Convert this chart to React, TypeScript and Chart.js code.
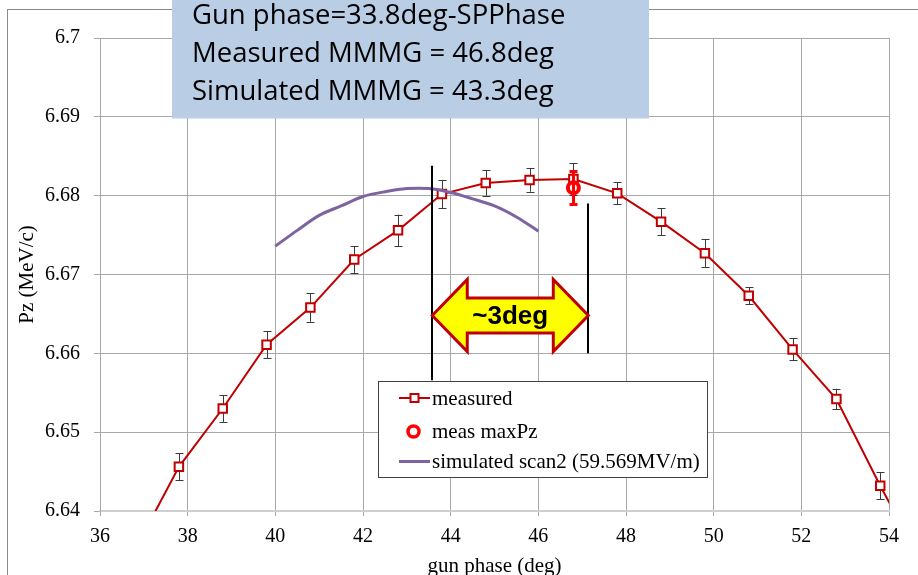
import { useEffect, useRef } from 'react';
import { Chart, registerables } from 'chart.js';

Chart.register(...registerables);

// Gun phase scan: measured Pz with error bars, peak marker, simulated scan
const phaseMeasured = [36.8, 37.8, 38.8, 39.8, 40.8, 41.8, 42.8, 43.8, 44.8, 45.8, 46.8, 47.8, 48.8, 49.8, 50.8, 51.8, 52.8, 53.8, 54.8];
const pzMeasured = [6.6351, 6.6456, 6.653, 6.6611, 6.6658, 6.6719, 6.6756, 6.6802, 6.6816, 6.682, 6.6821, 6.6803, 6.6767, 6.6727, 6.6673, 6.6605, 6.6542, 6.6432, 6.6328];
const pzMeasuredErr = [0.0017, 0.0017, 0.0017, 0.0017, 0.0018, 0.0017, 0.002, 0.0018, 0.0016, 0.0015, 0.002, 0.0014, 0.0017, 0.0018, 0.0011, 0.0014, 0.0013, 0.0017, 0.0017];

const phaseMaxPz = [46.8];
const pzMaxPz = [6.681];
const pzMaxPzErr = [0.0021];

const phaseSimulated = [40.0, 40.5, 41.0, 41.5, 42.0, 42.5, 43.0, 43.5, 44.0, 44.5, 45.0, 45.5, 46.0];
const pzSimulated = [6.6736, 6.6756, 6.6775, 6.6787, 6.6799, 6.6805, 6.6809, 6.6809, 6.6804, 6.6796, 6.6787, 6.6773, 6.6755];

const xTickValues = [36, 38, 40, 42, 44, 46, 48, 50, 52, 54];
const yTickValues = [6.64, 6.65, 6.66, 6.67, 6.68, 6.69, 6.7];

const seriesLabels = ['measured', 'meas maxPz', 'simulated scan2 (59.569MV/m)'];
const infoLines = ['Gun phase=33.8deg-SPPhase', 'Measured MMMG = 46.8deg', 'Simulated MMMG = 43.3deg'];
const spanLabel = '~3deg';

// phase window shown by the double arrow (deg) and marker line extents (MeV/c)
const spanLeft = { x: 43.58, yTop: 6.6838, yBottom: 6.6566 };
const spanRight = { x: 47.14, yTop: 6.679, yBottom: 6.66 };
const spanArrowY = 6.6648;

const RED = '#C00000';
const BRIGHT_RED = '#FF0000';
const PURPLE = '#7F63A1';
const SERIF = '"Liberation Serif", "Times New Roman", serif';

const toPoints = (xs: number[], ys: number[]) => xs.map((x, i) => ({ x, y: ys[i] }));

const errorsByDataset: Record<number, { err: number[]; color: string; width: number; cap: number }> = {
  0: { err: pzMeasuredErr, color: '#3A3A3A', width: 1, cap: 4 },
  1: { err: pzMaxPzErr, color: BRIGHT_RED, width: 3, cap: 4 },
};

const overlayPlugin = {
  id: 'phaseScanOverlay',
  beforeDraw(chart: any) {
    const { ctx } = chart;
    ctx.save();
    ctx.fillStyle = '#ffffff';
    ctx.fillRect(0, 0, chart.width, chart.height);
    ctx.strokeStyle = '#8A8A8A';
    ctx.lineWidth = 1;
    ctx.strokeRect(7.5, 9.5, chart.width + 20, chart.height + 20);
    ctx.restore();
  },
  beforeDatasetDraw(chart: any, args: any) {
    const spec = errorsByDataset[args.index];
    if (!spec) return;
    const { ctx, chartArea } = chart;
    const xs = chart.scales.x;
    const ys = chart.scales.y;
    const data = chart.data.datasets[args.index].data as { x: number; y: number }[];
    ctx.save();
    ctx.beginPath();
    ctx.rect(chartArea.left, chartArea.top, chartArea.right - chartArea.left, chartArea.bottom - chartArea.top);
    ctx.clip();
    ctx.strokeStyle = spec.color;
    ctx.lineWidth = spec.width;
    data.forEach((p, i) => {
      const px = Math.round(xs.getPixelForValue(p.x)) + (spec.width % 2 ? 0.5 : 0);
      const top = ys.getPixelForValue(p.y + spec.err[i]);
      const bot = ys.getPixelForValue(p.y - spec.err[i]);
      ctx.beginPath();
      ctx.moveTo(px, top);
      ctx.lineTo(px, bot);
      ctx.moveTo(px - spec.cap, Math.round(top) + 0.5);
      ctx.lineTo(px + spec.cap, Math.round(top) + 0.5);
      ctx.moveTo(px - spec.cap, Math.round(bot) + 0.5);
      ctx.lineTo(px + spec.cap, Math.round(bot) + 0.5);
      ctx.stroke();
    });
    ctx.restore();
  },
  afterDraw(chart: any) {
    const { ctx } = chart;
    const xs = chart.scales.x;
    const ys = chart.scales.y;
    ctx.save();

    // marker lines bounding the phase window
    ctx.strokeStyle = '#000000';
    ctx.lineWidth = 2;
    [spanLeft, spanRight].forEach((m) => {
      const px = Math.round(xs.getPixelForValue(m.x));
      ctx.beginPath();
      ctx.moveTo(px, ys.getPixelForValue(m.yTop));
      ctx.lineTo(px, ys.getPixelForValue(m.yBottom));
      ctx.stroke();
    });

    // double-headed arrow
    const xl = xs.getPixelForValue(spanLeft.x);
    const xr = xs.getPixelForValue(spanRight.x);
    const cy = ys.getPixelForValue(spanArrowY);
    const head = 35;
    const headHalf = 36;
    const shaftHalf = 17.5;
    ctx.beginPath();
    ctx.moveTo(xl, cy);
    ctx.lineTo(xl + head, cy - headHalf);
    ctx.lineTo(xl + head, cy - shaftHalf);
    ctx.lineTo(xr - head, cy - shaftHalf);
    ctx.lineTo(xr - head, cy - headHalf);
    ctx.lineTo(xr, cy);
    ctx.lineTo(xr - head, cy + headHalf);
    ctx.lineTo(xr - head, cy + shaftHalf);
    ctx.lineTo(xl + head, cy + shaftHalf);
    ctx.lineTo(xl + head, cy + headHalf);
    ctx.closePath();
    ctx.fillStyle = '#FFFF00';
    ctx.fill();
    ctx.strokeStyle = RED;
    ctx.lineWidth = 3;
    ctx.lineJoin = 'miter';
    ctx.stroke();
    ctx.fillStyle = '#000000';
    ctx.font = 'bold 26px "Liberation Sans", Arial, sans-serif';
    ctx.textAlign = 'center';
    ctx.textBaseline = 'middle';
    ctx.fillText(spanLabel, (xl + xr) / 2, cy + 1);

    // legend box
    const lx = 378.5;
    const ly = 381.5;
    const lw = 329;
    const lh = 96;
    ctx.fillStyle = '#ffffff';
    ctx.fillRect(lx, ly, lw, lh);
    ctx.strokeStyle = '#404040';
    ctx.lineWidth = 1;
    ctx.strokeRect(lx, ly, lw, lh);
    const rowY = [398, 431.5, 461.5];
    const symL = 399;
    const symR = 430;
    const symC = (symL + symR) / 2;
    ctx.font = `21px ${SERIF}`;
    ctx.textAlign = 'left';
    ctx.textBaseline = 'middle';
    // measured
    ctx.strokeStyle = RED;
    ctx.lineWidth = 2;
    ctx.beginPath();
    ctx.moveTo(symL, rowY[0]);
    ctx.lineTo(symR, rowY[0]);
    ctx.stroke();
    ctx.fillStyle = '#ffffff';
    ctx.fillRect(symC - 4, rowY[0] - 4, 8, 8);
    ctx.strokeRect(symC - 4, rowY[0] - 4, 8, 8);
    // meas maxPz
    ctx.strokeStyle = BRIGHT_RED;
    ctx.lineWidth = 3.5;
    ctx.beginPath();
    ctx.arc(symC - 1, rowY[1], 5.5, 0, Math.PI * 2);
    ctx.stroke();
    // simulated
    ctx.strokeStyle = PURPLE;
    ctx.lineWidth = 3;
    ctx.beginPath();
    ctx.moveTo(symL, rowY[2]);
    ctx.lineTo(symR, rowY[2]);
    ctx.stroke();
    ctx.fillStyle = '#000000';
    seriesLabels.forEach((t, i) => ctx.fillText(t, 432, rowY[i] + 1));

    // info text box
    ctx.fillStyle = '#B9CDE5';
    ctx.fillRect(172, 0, 477, 118.5);
    ctx.fillStyle = '#000000';
    ctx.font = '27.5px "Open Sans", Lato, sans-serif';
    ctx.textAlign = 'left';
    ctx.textBaseline = 'alphabetic';
    infoLines.forEach((t, i) => ctx.fillText(t, 192, 24 + i * 38));

    ctx.restore();
  },
};

export default function App() {
  const canvasRef = useRef<HTMLCanvasElement | null>(null);

  useEffect(() => {
    const canvas = canvasRef.current;
    if (!canvas) return;
    const chart = new Chart(canvas, {
      type: 'scatter',
      data: {
        datasets: [
          {
            label: seriesLabels[0],
            data: toPoints(phaseMeasured, pzMeasured),
            showLine: true,
            borderColor: RED,
            borderWidth: 2,
            pointStyle: 'rect',
            pointRadius: 6,
            pointBorderWidth: 2,
            pointBackgroundColor: '#ffffff',
            pointBorderColor: RED,
            clip: 0,
            order: 2,
          },
          {
            label: seriesLabels[1],
            data: toPoints(phaseMaxPz, pzMaxPz),
            showLine: false,
            pointStyle: 'circle',
            pointRadius: 5.5,
            pointBorderWidth: 4,
            pointBackgroundColor: 'rgba(255,255,255,0)',
            pointBorderColor: BRIGHT_RED,
            order: 0,
          },
          {
            label: seriesLabels[2],
            data: toPoints(phaseSimulated, pzSimulated),
            showLine: true,
            borderColor: PURPLE,
            borderWidth: 3,
            tension: 0.3,
            pointRadius: 0,
            order: 1,
          },
        ],
      },
      options: {
        responsive: false,
        animation: false,
        devicePixelRatio: 1,
        layout: { padding: { left: 0, top: 38, right: 29, bottom: 0 } },
        plugins: {
          legend: { display: false },
          tooltip: { enabled: false },
        },
        scales: {
          x: {
            type: 'linear',
            min: 36,
            max: 54,
            afterBuildTicks: (axis: any) => {
              axis.ticks = xTickValues.map((v) => ({ value: v }));
            },
            afterFit: (scale: any) => {
              scale.height = 64;
            },
            ticks: {
              color: '#000000',
              font: { family: SERIF, size: 20 },
              padding: 9,
              maxRotation: 0,
              callback: (v: any) => String(v),
            },
            grid: { color: '#A8A8A8', lineWidth: 1, tickLength: 5, drawTicks: true },
            border: { color: '#CFCFCF', width: 2 },
            title: {
              display: true,
              text: 'gun phase (deg)',
              color: '#000000',
              font: { family: SERIF, size: 21, lineHeight: 0.8 },
              padding: { top: 0, bottom: 0 },
            },
          },
          y: {
            type: 'linear',
            min: 6.64,
            max: 6.7,
            afterBuildTicks: (axis: any) => {
              axis.ticks = yTickValues.map((v) => ({ value: v }));
            },
            afterFit: (scale: any) => {
              scale.width = 100;
            },
            ticks: {
              color: '#000000',
              font: { family: SERIF, size: 20 },
              padding: 14,
              callback: (v: any) => String(Math.round(Number(v) * 100) / 100),
            },
            grid: { color: '#A8A8A8', lineWidth: 1, tickLength: 6, drawTicks: true },
            border: { color: '#A8A8A8', width: 1 },
            title: {
              display: true,
              text: 'Pz (MeV/c)',
              color: '#000000',
              font: { family: SERIF, size: 21, lineHeight: 1.2 },
              padding: { top: 15, bottom: 0 },
            },
          },
        },
      },
      plugins: [overlayPlugin],
    });
    return () => chart.destroy();
  }, []);

  return (
    <div style={{ position: 'fixed', left: 0, top: 0, width: 918, height: 575, overflow: 'hidden', background: '#ffffff' }}>
      <canvas ref={canvasRef} width={918} height={575} style={{ display: 'block', width: 918, height: 575 }} />
    </div>
  );
}
